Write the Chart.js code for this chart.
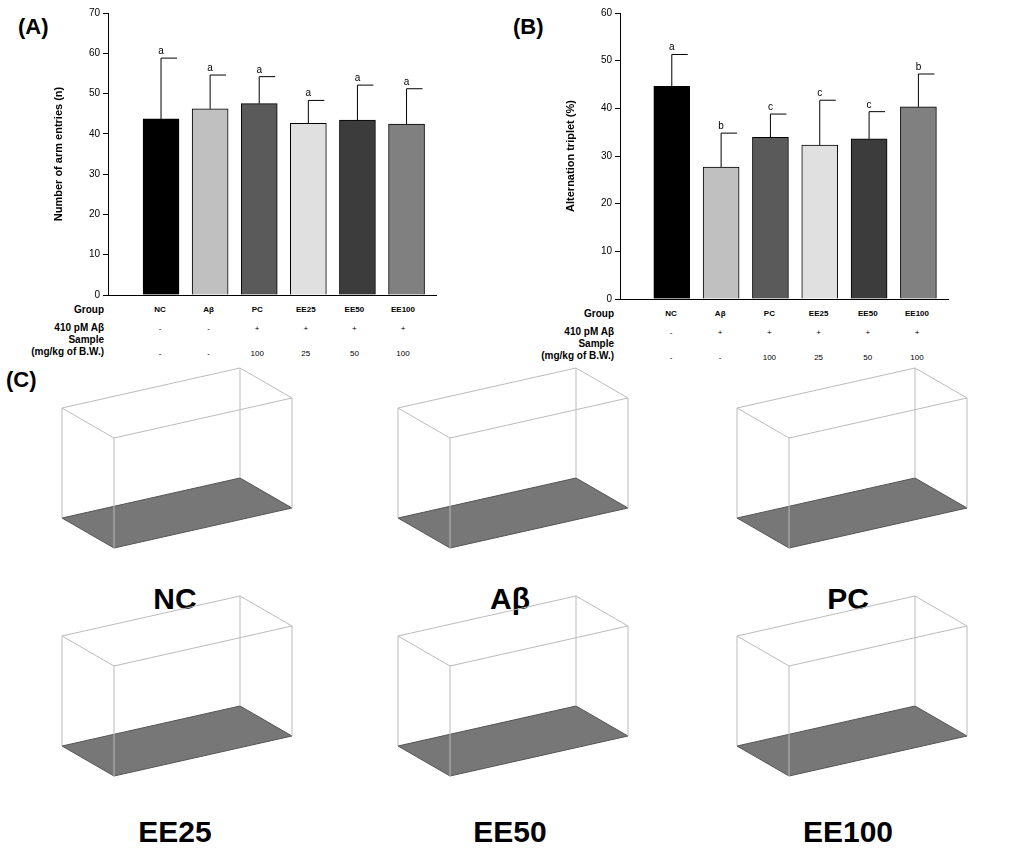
<!DOCTYPE html>
<html>
<head>
<meta charset="utf-8">
<script src="https://cdn.jsdelivr.net/npm/chart.js@4/dist/chart.umd.min.js"></script>
<style>
  body { margin: 0; background: #fff; font-family: Arial, "Liberation Sans", sans-serif; }
  #wrap { position: relative; width: 1024px; height: 864px; }
  .abs { position: absolute; }
  .plab { font-size: 22px; font-weight: bold; }
  .t { position: absolute; font-size: 10px; font-weight: bold; white-space: nowrap; }
  .v { position: absolute; font-size: 8px; transform: translateX(-50%); }
  .big { position: absolute; font-size: 30px; font-weight: bold; transform: translateX(-50%); }
</style>
</head>
<body>
<div id="wrap">
  <div class="abs plab" style="left:18px;top:14px">(A)</div>
  <div class="abs plab" style="left:513px;top:14px">(B)</div>
  <div class="abs plab" style="left:6px;top:367px">(C)</div>
  <canvas id="chartA" class="abs" style="left:48px;top:4px"></canvas>
  <canvas id="chartB" class="abs" style="left:560px;top:4px"></canvas>
  <div id="tables"></div>
  <svg id="boxes" class="abs" style="left:0;top:0" width="1024" height="864"></svg>
</div>
<script>
const groups = ["NC", "A\u03b2", "PC", "EE25", "EE50", "EE100"];
const greys = ["#000000", "#c0c0c0", "#5a5a5a", "#e0e0e0", "#3c3c3c", "#808080"];

const armEntries = [43.7, 46.2, 47.5, 42.6, 43.4, 42.4];
const armErr = [58.8, 54.6, 54.2, 48.3, 52.1, 51.2];
const armLetters = ["a", "a", "a", "a", "a", "a"];

const triplet = [44.6, 27.7, 33.9, 32.3, 33.6, 40.3];
const tripletErr = [51.3, 34.8, 38.8, 41.7, 39.3, 47.2];
const tripletLetters = ["a", "b", "c", "c", "c", "b"];

// error bars + letters drawn through chart scales
const errPlugin = {
  id: "err",
  afterDatasetsDraw(chart, args, opts) {
    const ctx = chart.ctx, xs = chart.scales.x, ys = chart.scales.y;
    ctx.save();
    ctx.strokeStyle = "#000"; ctx.lineWidth = 1;
    ctx.fillStyle = "#000"; ctx.font = "10px Arial"; ctx.textAlign = "center";
    opts.top.forEach((t, i) => {
      const x = xs.getPixelForValue(i), y0 = ys.getPixelForValue(opts.mean[i]), y1 = ys.getPixelForValue(t);
      ctx.beginPath();
      ctx.moveTo(x, y0); ctx.lineTo(x, y1);
      ctx.moveTo(x, y1); ctx.lineTo(x + 16, y1);
      ctx.stroke();
      ctx.fillText(opts.letters[i], x, y1 - 4);
    });
    ctx.restore();
  }
};

function makeChart(id, vals, errs, letters, ymax, xmin, xmax, title) {
  return new Chart(document.getElementById(id), {
    type: "bar",
    data: {
      datasets: [{
        data: vals.map((v, i) => ({ x: i, y: v })),
        backgroundColor: greys,
        borderColor: "#000",
        borderWidth: 1,
        barThickness: 36
      }]
    },
    options: {
      responsive: false, animation: false,
      devicePixelRatio: 1,
      layout: { padding: { top: 6, right: 2 } },
      plugins: { legend: { display: false }, tooltip: { enabled: false },
        err: { top: errs, mean: vals, letters: letters } },
      scales: {
        x: { type: "linear", min: xmin, max: xmax, offset: false, grid: { display: false },
          ticks: { display: false }, border: { color: "#000" } },
        y: { min: 0, max: ymax, ticks: { stepSize: 10, color: "#000", font: { size: 10 } },
          grid: { display: true, drawOnChartArea: false, drawTicks: true, tickLength: 5, color: "#000" },
          border: { color: "#000" },
          title: { display: true, text: title, color: "#000", font: { size: 11, weight: "bold" } },
          afterFit: s => { s.width = 60; } }
      }
    },
    plugins: [errPlugin]
  });
}

document.getElementById("chartA").width = 390; document.getElementById("chartA").height = 300;
document.getElementById("chartB").width = 390; document.getElementById("chartB").height = 304;
makeChart("chartA", armEntries, armErr, armLetters, 70, -1.08, 5.6, "Number of arm entries (n)");
makeChart("chartB", triplet, tripletErr, tripletLetters, 60, -1.05, 5.6, "Alternation triplet (%)");

// group / treatment table under each chart
const rowsA = { x0: 160, dx: 48.6, right: 104, top: 304,
  abeta: ["-", "-", "+", "+", "+", "+"], sample: ["-", "-", "100", "25", "50", "100"] };
const rowsB = { x0: 671, dx: 49.2, right: 614, top: 308,
  abeta: ["-", "+", "+", "+", "+", "+"], sample: ["-", "-", "100", "25", "50", "100"] };
let html = "";
[rowsA, rowsB].forEach(r => {
  const lab = (txt, y) => `<div class="t" style="right:${1024 - r.right}px;top:${y}px;text-align:right">${txt}</div>`;
  html += lab("Group", r.top) + lab("410 pM A\u03b2", r.top + 18) +
          lab("Sample", r.top + 30) + lab("(mg/kg of B.W.)", r.top + 42);
  groups.forEach((g, i) => {
    const x = r.x0 + i * r.dx;
    html += `<div class="v" style="left:${x}px;top:${r.top + 1}px;font-weight:bold">${g}</div>`;
    html += `<div class="v" style="left:${x}px;top:${r.top + 20}px">${r.abeta[i]}</div>`;
    html += `<div class="v" style="left:${x}px;top:${r.top + 45}px">${r.sample[i]}</div>`;
  });
});
// panel C labels
const cx = [175, 510, 848];
groups.forEach((g, i) => {
  const y = i < 3 ? 582 : 815;
  html += `<div class="big" style="left:${cx[i % 3]}px;top:${y}px">${g}</div>`;
});
document.getElementById("tables").innerHTML = html;

// panel C: empty wireframe boxes with floor
let svg = "";
groups.forEach((g, i) => {
  const ox = [62, 398, 737][i % 3], oy = i < 3 ? 408 : 636;
  const f = [[ox, oy + 110], [ox + 52, oy + 140], [ox + 230, oy + 100], [ox + 178, oy + 70]];
  const b = [[ox, oy], [ox + 52, oy + 30], [ox + 230, oy - 10], [ox + 178, oy - 40]];
  const pts = a => a.map(p => p.join(",")).join(" ");
  svg += `<polygon points="${pts(f)}" fill="#777" stroke="#555"/>`;
  svg += `<polygon points="${pts(b)}" fill="none" stroke="#bbb"/>`;
  for (let k = 0; k < 4; k++) svg += `<line x1="${f[k][0]}" y1="${f[k][1]}" x2="${b[k][0]}" y2="${b[k][1]}" stroke="#bbb"/>`;
});
document.getElementById("boxes").innerHTML = svg;
</script>
</body>
</html>
